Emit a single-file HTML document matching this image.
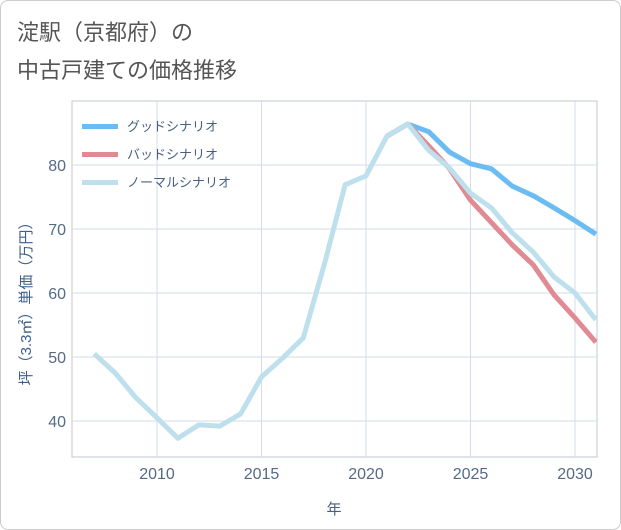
<!DOCTYPE html>
<html><head><meta charset="utf-8"><style>
body{margin:0;background:#fff}
#wrap{position:relative;width:619px;height:528px;border:1px solid #ccc;border-radius:8px;background:#fff;overflow:hidden}
.t{font-family:"Liberation Sans","Noto Sans CJK JP",sans-serif}
</style></head><body>
<div id="wrap">
<svg width="621" height="530" id="svg" style="position:absolute;left:-1px;top:-1px">
<text x="17" y="40" class="t" font-size="22" fill="#555">淀駅（京都府）の</text>
<text x="17" y="78" class="t" font-size="22" fill="#555">中古戸建ての価格推移</text>
<g id="grid"></g><g id="lines"></g><g id="legend"></g>
<text transform="translate(31,300) rotate(-90)" text-anchor="middle" class="t" font-size="15" fill="#3d5f8a">坪（3.3㎡）単価（万円）</text>
<text x="334" y="514" text-anchor="middle" class="t" font-size="15" fill="#4a6080">年</text>
</svg></div>
<script>
const years=[2007,2008,2009,2010,2011,2012,2013,2014,2015,2016,2017,2018,2019,2020,2021,2022,2023,2024,2025,2026,2027,2028,2029,2030,2031];
const normal=[50.5,47.5,43.6,40.5,37.3,39.4,39.2,41.1,46.9,49.8,53,64.4,76.9,78.3,84.5,86.4,82.3,79.5,75.6,73.3,69.4,66.4,62.5,60,55.8];
const goodYears=[2021,2022,2023,2024,2025,2026,2027,2028,2029,2030,2031];
const good=[84.5,86.4,85.2,82,80.2,79.4,76.7,75.2,73.3,71.3,69.2];
const bad=[84.5,86.4,83,79.4,74.5,71,67.5,64.4,59.7,56.1,52.3];
const xTicks=[2010,2015,2020,2025,2030];
const yTicks=[40,50,60,70,80];
const L=72,R=597,T=101,B=457;
const X=v=>157+(v-2010)*20.9;
const Y=v=>165+(80-v)*6.4;
const NS="http://www.w3.org/2000/svg";
function mk(tag,attrs,parent){const e=document.createElementNS(NS,tag);for(const k in attrs)e.setAttribute(k,attrs[k]);parent.appendChild(e);return e;}
const svg=document.getElementById('svg');
const defs=mk('defs',{},svg);const cp=mk('clipPath',{id:'c'},defs);mk('rect',{x:L,y:T,width:R-L,height:B-T},cp);
const g=document.getElementById('grid');
const frame=mk('rect',{x:L,y:T,width:R-L,height:B-T,fill:'none',stroke:'#c0c8d0'},g);


xTicks.forEach(t=>{const l=mk('line',{x1:X(t),x2:X(t),y1:T,y2:B,stroke:'#d3dde8'},g);


const tx=mk('text',{x:X(t),y:B+22,'text-anchor':'middle','font-size':16,fill:'#556a85',class:'t'},g);tx.textContent=t;

});
yTicks.forEach(t=>{const l=mk('line',{x1:L,x2:R,y1:Y(t),y2:Y(t),stroke:'#d3dde8'},g);


const tx=mk('text',{x:L-6,y:Y(t)+6,'text-anchor':'end','font-size':16,fill:'#556a85',class:'t'},g);tx.textContent=t;

});
const lg=document.getElementById('lines');lg.setAttribute('clip-path','url(#c)');
function line(xs,vs,color,name){const p=mk('polyline',{points:xs.map((y,i)=>X(y)+','+Y(vs[i])).join(' '),fill:'none',stroke:color,'stroke-width':5,'stroke-linejoin':'round'},lg);

}
line(goodYears,good,'#6bbcf2','good-scenario-line');
line(goodYears,bad,'#e08a94','bad-scenario-line');
line(years,normal,'#bde0ec','normal-scenario-line');
const leg=document.getElementById('legend');
[['グッドシナリオ','#6bbcf2'],['バッドシナリオ','#e08a94'],['ノーマルシナリオ','#bde0ec']].forEach((d,i)=>{
const y=126+i*28;
mk('rect',{x:82,y:y-2,width:36,height:5,fill:d[1]},leg);
const tx=mk('text',{x:127,y:y+5,'font-size':13,fill:'#4a6080',class:'t'},leg);tx.textContent=d[0];

});
</script>
</body></html>
